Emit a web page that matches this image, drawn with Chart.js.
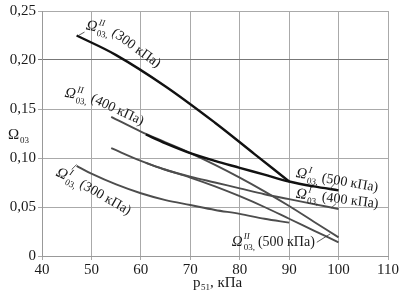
<!DOCTYPE html>
<html>
<head>
<meta charset="utf-8">
<script src="https://cdn.jsdelivr.net/npm/chart.js@4/dist/chart.umd.min.js"></script>
<style>
  html, body { margin: 0; padding: 0; background: #fff; }
  #wrap { width: 400px; height: 295px; }
</style>
</head>
<body>
<div id="wrap"><canvas id="chart" width="400" height="295"></canvas></div>
<script>
// p51, kPa (x) and Omega03 (y)
const p_II_300 = [47, 55, 65, 75, 83, 90];
const om_II_300 = [0.225, 0.205, 0.173, 0.136, 0.104, 0.076];

const p_I_500 = [61, 65, 70, 75, 80, 85, 90, 95, 100];
const om_I_500 = [0.124, 0.115, 0.105, 0.097, 0.090, 0.083, 0.076, 0.071, 0.067];

const p_II_400 = [54, 60, 65, 70, 75, 80, 85, 90, 95, 100];
const om_II_400 = [0.142, 0.127, 0.116, 0.105, 0.093, 0.080, 0.066, 0.051, 0.035, 0.019];

const p_I_400 = [54, 60, 65, 70, 75, 80, 85, 90, 95, 100];
const om_I_400 = [0.110, 0.097, 0.088, 0.081, 0.075, 0.069, 0.063, 0.058, 0.053, 0.048];

const p_II_500 = [61, 65, 70, 75, 80, 85, 90, 95, 100];
const om_II_500 = [0.095, 0.088, 0.080, 0.071, 0.061, 0.050, 0.038, 0.026, 0.014];

const p_I_300 = [47, 50, 55, 60, 65, 70, 75, 80, 85, 90];
const om_I_300 = [0.092, 0.084, 0.073, 0.064, 0.057, 0.052, 0.047, 0.043, 0.038, 0.034];

const xTicks = [40, 50, 60, 70, 80, 90, 100, 110];
const yTicks = [0, 0.05, 0.10, 0.15, 0.20, 0.25];

const SERIF = '"Liberation Serif", "DejaVu Serif", serif';

const pts = (xs, ys) => xs.map((x, i) => ({ x, y: ys[i] }));

const curve = (label, xs, ys, color, width) => ({
  label,
  data: pts(xs, ys),
  borderColor: color,
  borderWidth: width,
  pointRadius: 0,
  tension: 0.35,
  fill: false
});

// curve labels: anchor in data units, angles in degrees (symbol part / text part),
// optional leader given as two data points
const notes = [
  { sup: 'II', rest: '(300 кПа)', x: 48.8, y: 0.2315, rot: 12, restRot: 36, lead: [[48.6, 0.2285], [47.3, 0.2248]] },
  { sup: 'II', rest: '(400 кПа)', x: 44.5, y: 0.1625, rot: 10, restRot: 25 },
  { sup: 'I', rest: '(300 кПа)', x: 42.7, y: 0.0825, rot: 26, restRot: 30, lead: [[46.0, 0.0883], [47.0, 0.0933]] },
  { sup: 'I', rest: '(500 кПа)', x: 91.3, y: 0.0805, rot: 10, restRot: 10, lead: [[98.2, 0.0680], [99.3, 0.0745]] },
  { sup: 'I', rest: '(400 кПа)', x: 91.3, y: 0.0595, rot: 7, restRot: 7, lead: [[98.5, 0.0490], [99.5, 0.0535]] },
  { sup: 'II', rest: '(500 кПа)', x: 78.4, y: 0.0100, rot: 0, restRot: 0, lead: [[95.6, 0.0140], [98.3, 0.0225]] }
];

// draws Ω with stacked sup/sub, returns the advance width
function drawOmega(ctx, sup, sub, big, small) {
  ctx.font = 'italic ' + big + 'px ' + SERIF;
  ctx.fillText('Ω', 0, 0);
  const w = ctx.measureText('Ω').width + 1;
  ctx.font = 'italic ' + small + 'px ' + SERIF;
  const ws = sup ? ctx.measureText(sup).width : 0;
  if (sup) ctx.fillText(sup, w, -big * 0.45);
  ctx.font = small + 'px ' + SERIF;
  ctx.fillText(sub + ',', w, big * 0.28);
  const wb = ctx.measureText(sub + ',').width;
  return w + Math.max(ws, wb) + 3;
}

const labelPlugin = {
  id: 'curveLabels',
  afterDatasetsDraw(chart) {
    const { ctx, scales: { x, y } } = chart;
    ctx.save();
    ctx.fillStyle = '#1a1a1a';
    ctx.strokeStyle = '#333';
    ctx.lineWidth = 0.8;
    ctx.textBaseline = 'alphabetic';
    notes.forEach(n => {
      if (n.lead) {
        const [a, b] = n.lead;
        ctx.beginPath();
        ctx.moveTo(x.getPixelForValue(a[0]), y.getPixelForValue(a[1]));
        ctx.lineTo(x.getPixelForValue(b[0]), y.getPixelForValue(b[1]));
        ctx.stroke();
      }
      const px = x.getPixelForValue(n.x);
      const py = y.getPixelForValue(n.y);
      const r1 = n.rot * Math.PI / 180;
      ctx.save();
      ctx.translate(px, py);
      ctx.rotate(r1);
      const adv = drawOmega(ctx, n.sup, '03', 15, 9);
      ctx.restore();

      ctx.save();
      ctx.translate(px + adv * Math.cos(r1), py + adv * Math.sin(r1));
      ctx.rotate(n.restRot * Math.PI / 180);
      ctx.font = '14px ' + SERIF;
      ctx.fillText(n.rest, 0, 0);
      ctx.restore();
    });

    // axis titles
    const a = chart.chartArea;
    ctx.save();
    ctx.translate(8, (a.top + a.bottom) / 2 + 5);
    ctx.font = '15px ' + SERIF;
    ctx.fillText('Ω', 0, 0);
    ctx.font = '9px ' + SERIF;
    ctx.fillText('03', 12, 4);
    ctx.restore();

    ctx.save();
    ctx.translate((a.left + a.right) / 2 - 22, 287);
    ctx.font = '15px ' + SERIF;
    ctx.fillText('p', 0, 0);
    ctx.font = '9px ' + SERIF;
    ctx.fillText('51', 8, 3);
    ctx.font = '15px ' + SERIF;
    ctx.fillText(', кПа', 17, 0);
    ctx.restore();
    ctx.restore();
  }
};

const gridColor = '#aaaaaa';

new Chart(document.getElementById('chart'), {
  type: 'line',
  data: {
    datasets: [
      curve('Ω II 300', p_II_300, om_II_300, '#111111', 2.4),
      curve('Ω I 500', p_I_500, om_I_500, '#111111', 2.4),
      curve('Ω II 400', p_II_400, om_II_400, '#4d4d4d', 1.9),
      curve('Ω I 400', p_I_400, om_I_400, '#4d4d4d', 1.9),
      curve('Ω II 500', p_II_500, om_II_500, '#4d4d4d', 1.9),
      curve('Ω I 300', p_I_300, om_I_300, '#4d4d4d', 1.9)
    ]
  },
  options: {
    responsive: false,
    animation: false,
    layout: { padding: { top: 7, right: 12, left: 0, bottom: 0 } },
    plugins: {
      legend: { display: false },
      tooltip: { enabled: false }
    },
    scales: {
      x: {
        type: 'linear',
        min: xTicks[0],
        max: xTicks[xTicks.length - 1],
        afterBuildTicks: s => { s.ticks = xTicks.map(v => ({ value: v })); },
        afterFit: s => { s.height = 39; },
        ticks: { color: '#1a1a1a', font: { family: SERIF, size: 15 }, padding: 1, maxRotation: 0 },
        grid: { color: gridColor, lineWidth: 1, tickLength: 4 },
        border: { color: '#999999' }
      },
      y: {
        min: yTicks[0],
        max: yTicks[yTicks.length - 1],
        afterBuildTicks: s => { s.ticks = yTicks.map(v => ({ value: v })); },
        afterFit: s => { s.width = 42; },
        ticks: {
          color: '#1a1a1a',
          font: { family: SERIF, size: 15 },
          padding: 2,
          callback: v => v === 0 ? '0' : v.toFixed(2).replace('.', ',')
        },
        grid: {
          color: c => Math.abs(c.tick.value - 0.2) < 1e-9 ? '#777777' : gridColor,
          lineWidth: 1,
          tickLength: 4
        },
        border: { color: '#999999' }
      }
    }
  },
  plugins: [labelPlugin]
});
</script>
</body>
</html>
